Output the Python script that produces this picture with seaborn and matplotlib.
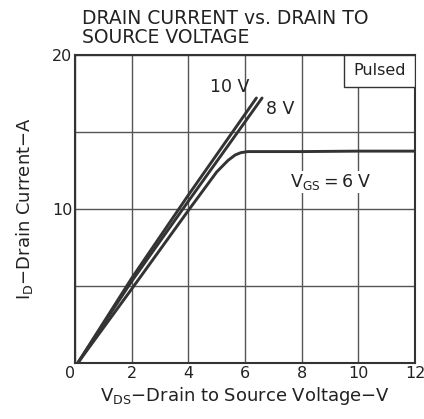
"""
Drain current vs. drain to source voltage (pulsed)
"""

import pandas as pd
import matplotlib.pyplot as plt
from matplotlib.patches import Rectangle
import seaborn as sns

sns.set_style("white")
plt.rcParams['font.family'] = ['DejaVu Sans']
plt.rcParams['mathtext.default'] = 'regular'

# Data
vds_10 = [0.1, 2.0, 4.0, 6.4]
id_10 = [0.0, 5.5, 10.9, 17.2]

vds_8 = [0.1, 2.0, 4.0, 6.6]
id_8 = [0.0, 5.3, 10.5, 17.2]

vds_6 = [0.1, 2.0, 4.0, 5.0, 5.4, 5.65, 5.85, 6.1, 8.0, 10.0, 12.0]
id_6 = [0.0, 4.8, 9.9, 12.4, 13.15, 13.5, 13.65, 13.72, 13.72, 13.75, 13.75]

curve_labels = ['10 V', '8 V', 'V$_{GS}$$=$6 V']
x_ticks = [0, 2, 4, 6, 8, 10, 12]
y_ticks = [10, 20]  # the shared "0" at the corner comes from the x axis
y_grid = [0, 5, 10, 15, 20]

df = pd.concat([
    pd.DataFrame({'vds': vds_10, 'id': id_10, 'vgs': '10'}),
    pd.DataFrame({'vds': vds_8, 'id': id_8, 'vgs': '8'}),
    pd.DataFrame({'vds': vds_6, 'id': id_6, 'vgs': '6'}),
])

ink = '#333333'
txt = '#222222'
fig = plt.figure(figsize=(4.24, 4.19), dpi=100)
ax = fig.add_axes([0.177, 0.134, 0.802, 0.735])

# grid
for x in x_ticks:
    ax.axvline(x, color='#555555', lw=1.0, zorder=0)
for y in y_grid:
    ax.axhline(y, color='#555555', lw=1.0, zorder=0)

sns.lineplot(data=df, x='vds', y='id', hue='vgs', units='vgs', estimator=None,
             sort=False, palette=[ink, ink, ink], linewidth=2.1, legend=False,
             ax=ax, zorder=3)

ax.set_xlim(0, 12)
ax.set_ylim(0, 20)
ax.set_xticks(x_ticks)
ax.set_yticks(y_ticks)
ax.tick_params(length=0, labelsize=11.5, colors=txt, pad=2)
ax.get_xticklabels()[0].set_horizontalalignment('right')
for s in ax.spines.values():
    s.set_color(ink)
    s.set_linewidth(1.5)

# curve labels
ax.text(5.45, 17.9, curve_labels[0], fontsize=12.5, ha='center', va='center', color=txt)
ax.text(6.75, 16.5, curve_labels[1], fontsize=12.5, ha='left', va='center', color=txt)
ax.text(7.6, 11.75, curve_labels[2], fontsize=12.5, ha='left', va='center', color=txt,
        bbox=dict(facecolor='white', edgecolor='none', pad=1))

# pulsed box, tucked into the top right corner
ax.add_patch(Rectangle((0.79, 0.896), 0.21, 0.104, transform=ax.transAxes,
                       facecolor='white', edgecolor=ink, lw=1.0, zorder=4))
ax.text(0.895, 0.948, 'Pulsed', transform=ax.transAxes, fontsize=11.5,
        ha='center', va='center', color=txt, zorder=5)

ax.set_xlabel('V$_{DS}$$-$Drain to Source Voltage$-$V', fontsize=13, color=txt, labelpad=3)
ax.set_ylabel('I$_{D}$$-$Drain Current$-$A', fontsize=13, color=txt, labelpad=12)

fig.text(0.193, 0.978, 'DRAIN CURRENT vs. DRAIN TO\nSOURCE VOLTAGE', fontsize=13.5,
         ha='left', va='top', color=txt, linespacing=0.98)

plt.savefig('out.png', dpi=100)
plt.close()
